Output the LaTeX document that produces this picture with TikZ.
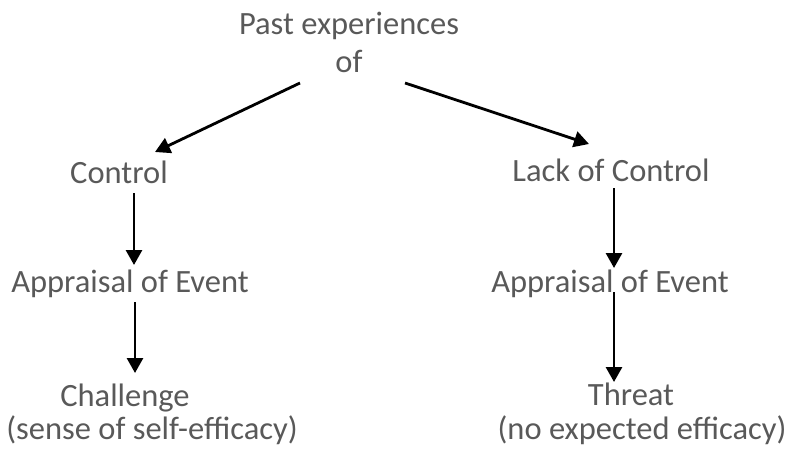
\documentclass[tikz,border=0pt]{standalone}
\usepackage{fontspec}
\setmainfont{Carlito}
\usepackage{tikz}
\usetikzlibrary{arrows.meta}
\definecolor{tgray}{HTML}{595959}

\begin{document}
\begin{tikzpicture}[x=1pt, y=-1pt, >={Triangle[width=16pt,length=15pt]},
   t/.style={text=tgray, inner sep=0pt, anchor=base, font=\fontsize{32.5}{38}\selectfont},
   a/.style={->, line width=2.8pt, black}]
  \useasboundingbox (0,0) rectangle (789,448);
  \node[t, anchor=north, align=center] (past) at (349,12) {Past experiences\\of};
  \node[t] (ctrl) at (119,183) {Control};
  \node[t] (lack) at (611,181) {Lack of Control};
  \node[t] (appl) at (130,292) {Appraisal of Event};
  \node[t] (appr) at (610,292) {Appraisal of Event};
  \node[t] (chal) at (125,406) {Challenge};
  \node[t] (chalnote) at (152,439) {(sense of self-efficacy)};
  \node[t] (thr) at (631,405) {Threat};
  \node[t] (thrnote) at (642,439) {(no expected efficacy)};
  \draw[a] ([xshift=-49pt,yshift=-10pt]past.south) -- ([xshift=36pt,yshift=31pt]ctrl.base);
  \draw[a] ([xshift=56pt,yshift=-10pt]past.south) -- ([xshift=-22pt,yshift=37pt]lack.base);
  \draw[a] ([xshift=15pt,yshift=-10pt]ctrl.base) -- ([xshift=4pt,yshift=27pt]appl.base);
  \draw[a] ([xshift=5pt,yshift=-10pt]appl.base) -- ([xshift=10pt,yshift=33pt]chal.base);
  \draw[a] ([xshift=3pt,yshift=-7pt]lack.base) -- ([xshift=4pt,yshift=24pt]appr.base);
  \draw[a] ([xshift=4pt]appr.base) -- ([xshift=-17pt,yshift=23pt]thr.base);
\end{tikzpicture}
\end{document}
